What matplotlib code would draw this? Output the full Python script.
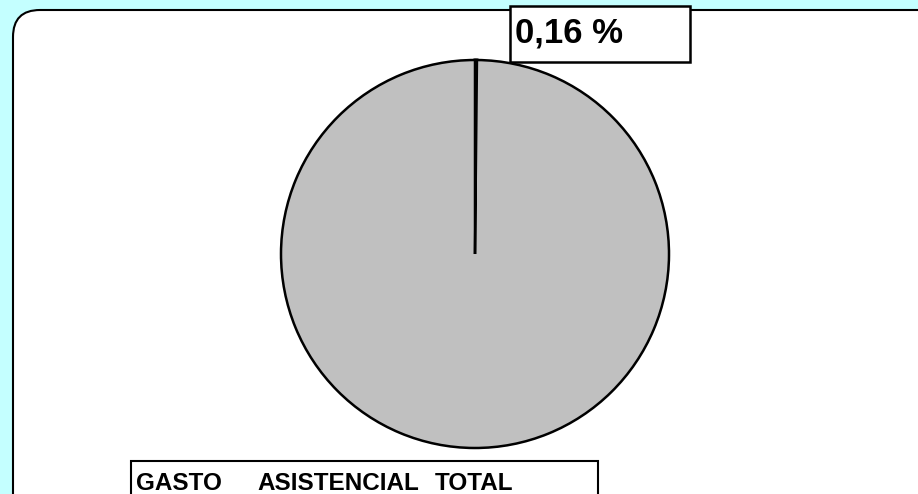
import matplotlib
matplotlib.use('Agg')
import matplotlib.pyplot as plt
from matplotlib.patches import FancyBboxPatch, Rectangle

# datos
labels = ['0,16 %', '']
values = [0.16, 99.84]
colors = ['#000000', '#c0c0c0']
title_words = ['GASTO', 'ASISTENCIAL', 'TOTAL']
title_x = [136, 257, 435]  # posicion de cada palabra (px)

W, H = 918, 494
fig = plt.figure(figsize=(W / 100, H / 100), dpi=100)
fig.patch.set_facecolor('#c4ffff')

# fondo con esquina redondeada
bg = fig.add_axes([0, 0, 1, 1])
bg.set_xlim(0, W)
bg.set_ylim(H, 0)
bg.axis('off')
bg.add_patch(FancyBboxPatch((13, 10), 960, 540,
                            boxstyle='round,pad=0,rounding_size=27',
                            facecolor='white', edgecolor='black', linewidth=1.5))

# tarta
cx, cy, r = 475, 254, 194
ax = fig.add_axes([(cx - r) / W, (H - cy - r) / H, 2 * r / W, 2 * r / H])
wedges, _ = ax.pie(values, colors=colors, startangle=90, counterclock=False,
                   wedgeprops={'edgecolor': 'black', 'linewidth': 1.8})
wedges[0].set_linewidth(2.2)
ax.set_xlim(-1, 1)
ax.set_ylim(-1, 1)
ax.set_aspect('equal')
ax.axis('off')

# etiquetas
top = fig.add_axes([0, 0, 1, 1])
top.set_xlim(0, W)
top.set_ylim(H, 0)
top.axis('off')
top.patch.set_alpha(0)
top.add_patch(Rectangle((510, 6), 180, 56, facecolor='white', edgecolor='black', linewidth=1.8))
top.text(515, 42, labels[0], fontsize=25, fontweight='bold', family='Liberation Sans',
         va='baseline', ha='left')
top.add_patch(Rectangle((131, 461), 467, 60, facecolor='white', edgecolor='black', linewidth=1.5))
for word, x in zip(title_words, title_x):
    top.text(x, 490, word, fontsize=17.5, fontweight='bold', family='Liberation Sans',
             va='baseline', ha='left')

fig.savefig('out.png', dpi=100, facecolor=fig.get_facecolor())
